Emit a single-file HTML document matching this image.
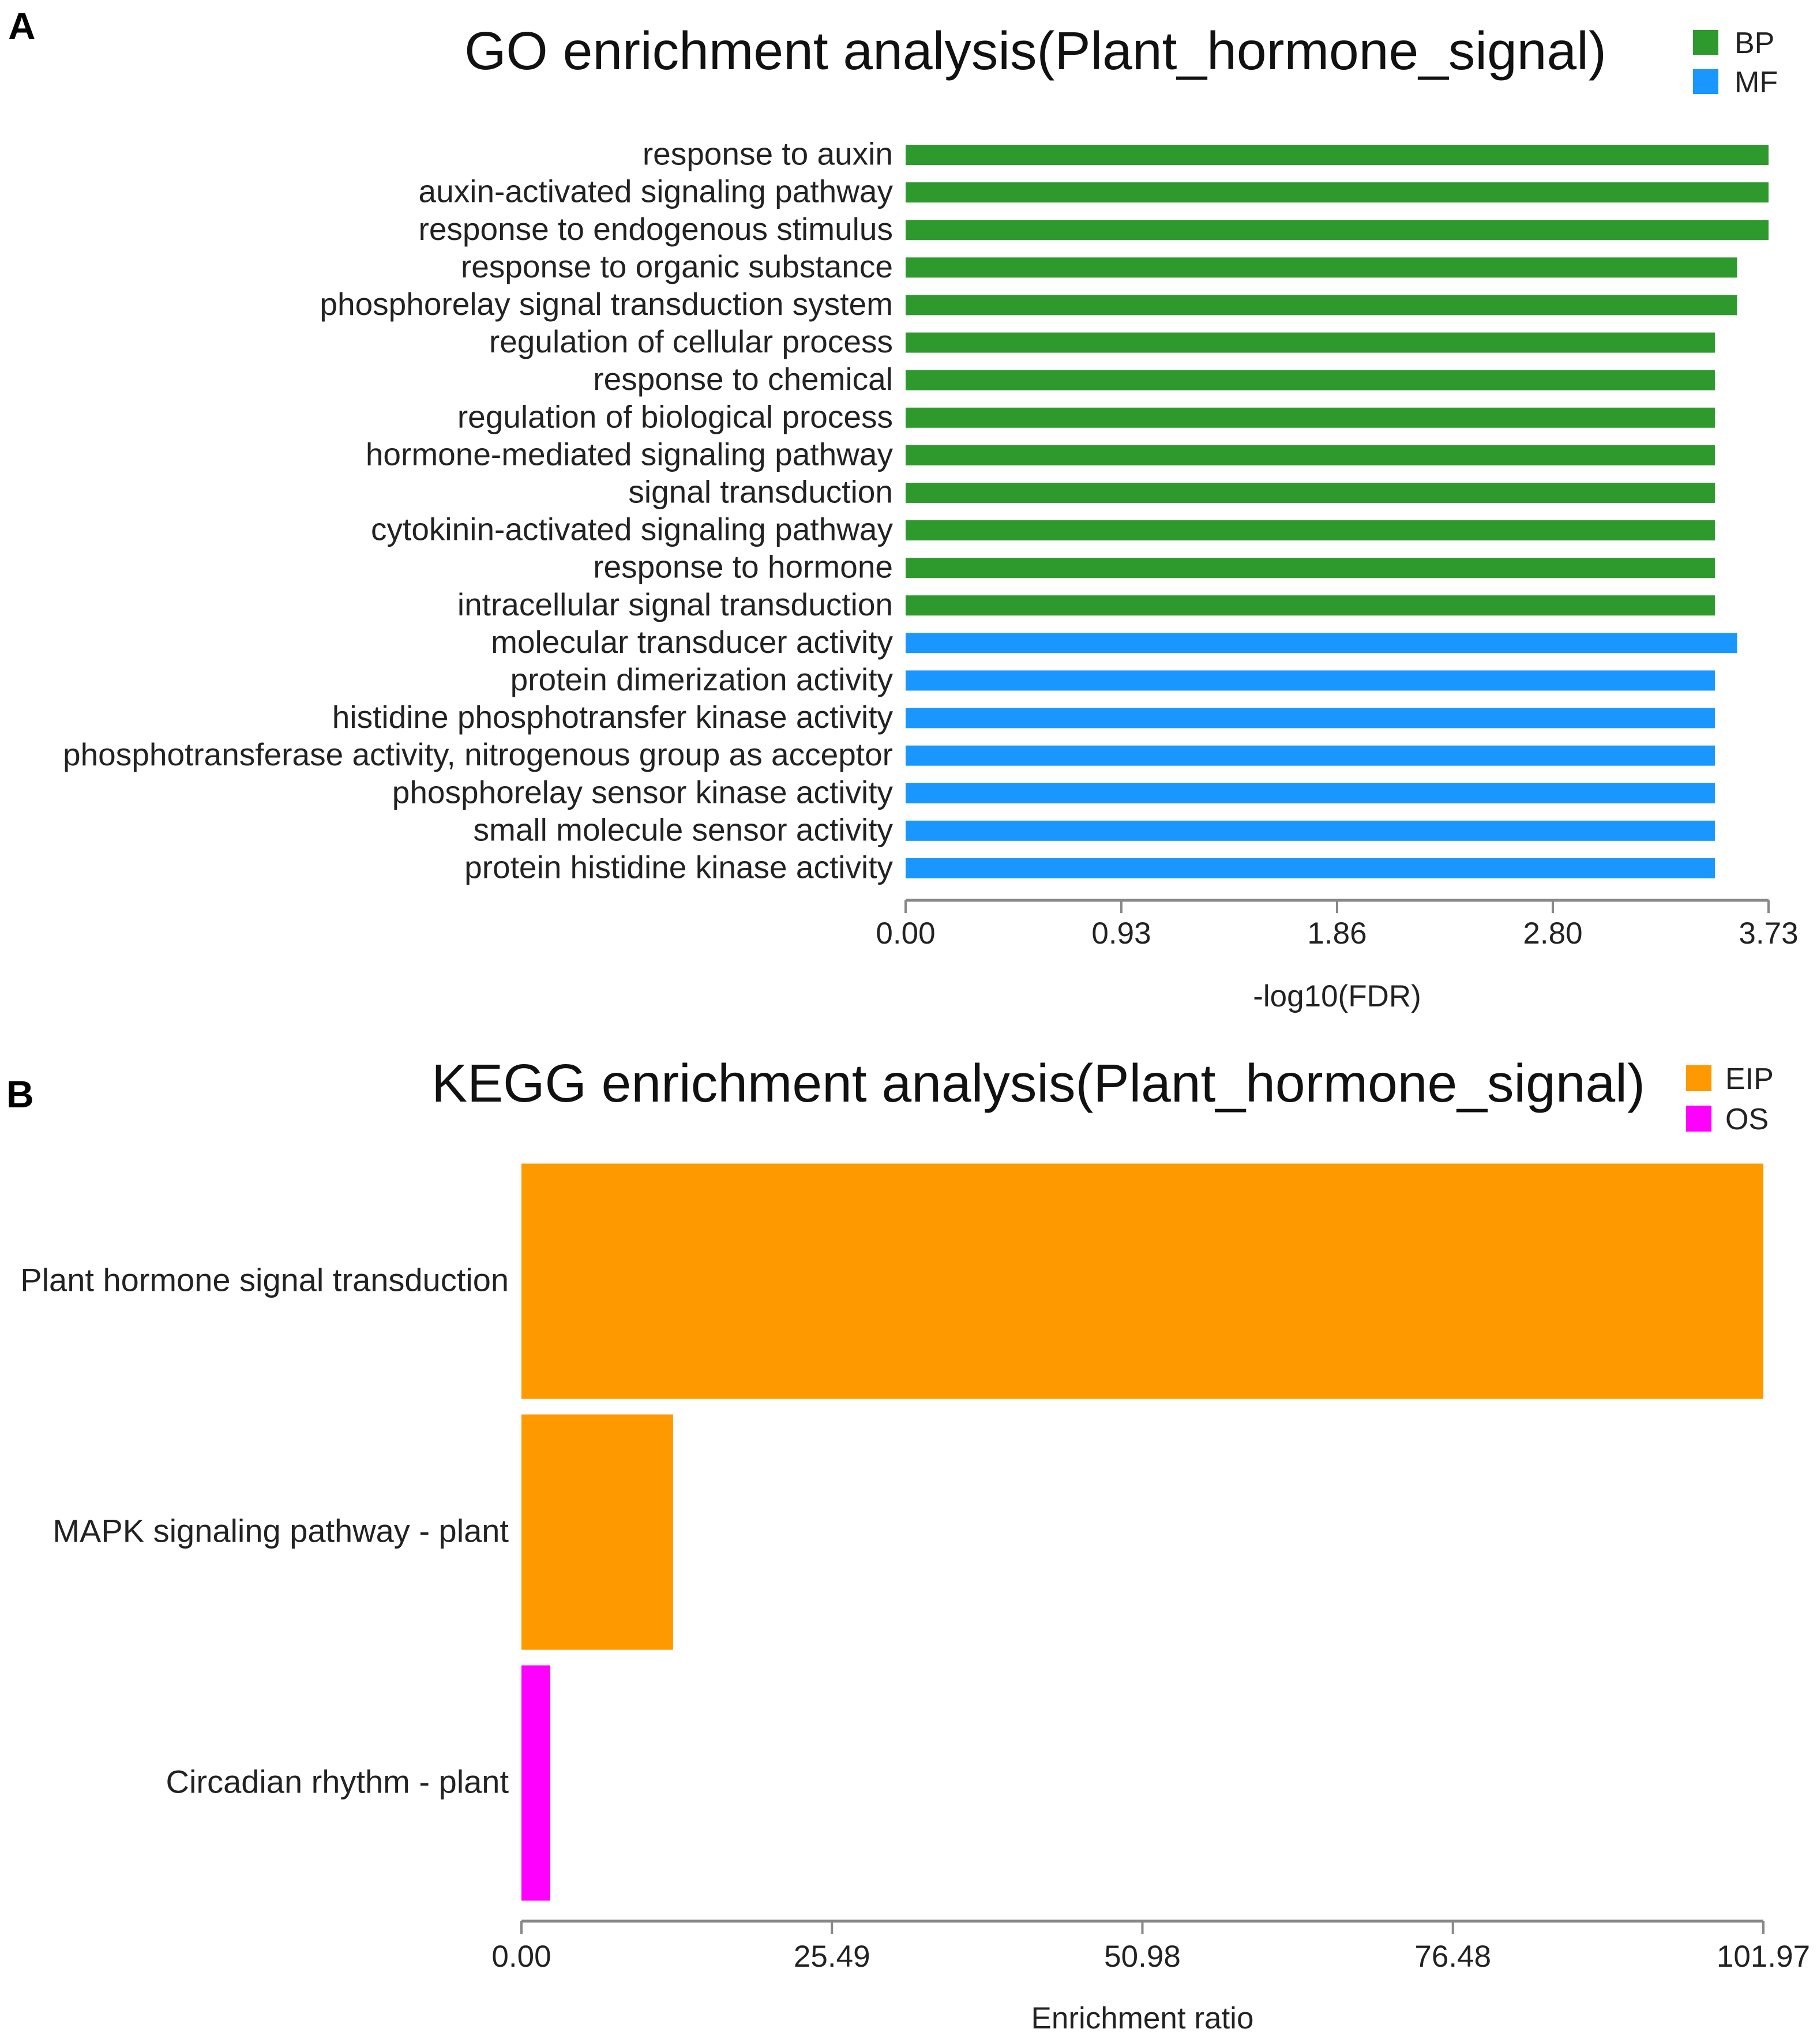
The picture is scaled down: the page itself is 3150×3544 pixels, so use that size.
<!DOCTYPE html>
<html><head><meta charset="utf-8"><style>
html,body{margin:0;padding:0;background:#fff;}
svg{display:block;font-family:"Liberation Sans",Arial,sans-serif;}
</style></head><body>
<svg id="chart" width="3150" height="3544" viewBox="0 0 3150 3544" xmlns="http://www.w3.org/2000/svg">
<rect width="3150" height="3544" fill="#fff"/>
<text x="14" y="68" font-size="66" font-weight="bold">A</text>
<text x="1795" y="120" font-size="93" text-anchor="middle" fill="#111">GO enrichment analysis(Plant_hormone_signal)</text>
<rect x="2935" y="52" width="44" height="43" fill="#2e9a2e"/>
<text x="3007" y="92" font-size="52" fill="#222">BP</text>
<rect x="2935" y="120" width="44" height="43" fill="#1a96ff"/>
<text x="3007" y="160" font-size="52" fill="#222">MF</text>
<text x="11" y="1920" font-size="66" font-weight="bold">B</text>
<text x="1800" y="1910" font-size="93" text-anchor="middle" fill="#111">KEGG enrichment analysis(Plant_hormone_signal)</text>
<rect x="2923" y="1847" width="44" height="45" fill="#ff9900"/>
<text x="2991" y="1888" font-size="52" fill="#222">EIP</text>
<rect x="2923" y="1917" width="44" height="45" fill="#ff00ff"/>
<text x="2991" y="1958" font-size="52" fill="#222">OS</text>
<g id="go"></g><g id="kegg"></g>
</svg>
<script>
const goTerms = ["response to auxin","auxin-activated signaling pathway","response to endogenous stimulus","response to organic substance","phosphorelay signal transduction system","regulation of cellular process","response to chemical","regulation of biological process","hormone-mediated signaling pathway","signal transduction","cytokinin-activated signaling pathway","response to hormone","intracellular signal transduction","molecular transducer activity","protein dimerization activity","histidine phosphotransfer kinase activity","phosphotransferase activity, nitrogenous group as acceptor","phosphorelay sensor kinase activity","small molecule sensor activity","protein histidine kinase activity"];
const goValues = [3.73,3.73,3.73,3.594,3.594,3.498,3.498,3.498,3.498,3.498,3.498,3.498,3.498,3.594,3.498,3.498,3.498,3.498,3.498,3.498];
const goClass = ["BP","BP","BP","BP","BP","BP","BP","BP","BP","BP","BP","BP","BP","MF","MF","MF","MF","MF","MF","MF"];
const goTicks = ["0.00","0.93","1.86","2.80","3.73"];
const goMax = 3.73;
const keggTerms = ["Plant hormone signal transduction","MAPK signaling pathway - plant","Circadian rhythm - plant"];
const keggValues = [101.97,12.45,2.36];
const keggClass = ["EIP","EIP","OS"];
const keggTicks = ["0.00","25.49","50.98","76.48","101.97"];
const keggMax = 101.97;

const colors = {BP:"#2e9a2e",MF:"#1a96ff",EIP:"#ff9900",OS:"#ff00ff"};
const NS = "http://www.w3.org/2000/svg";
function mk(parent, tag, attrs, text){
  const e = document.createElementNS(NS, tag);
  for (const k in attrs) e.setAttribute(k, attrs[k]);
  if (text !== undefined) e.textContent = text;
  parent.appendChild(e);
  return e;
}
function drawChart(g, terms, values, cls, ticks, max, cfg, prefix){
  const x = v => cfg.x0 + (v / max) * (cfg.x1 - cfg.x0);
  const y = i => cfg.top + i * cfg.step;
  terms.forEach((t, i) => {
    const b = mk(g, "rect", {x: x(0), y: y(i) + (cfg.step - cfg.bh) / 2, width: x(values[i]) - x(0), height: cfg.bh, fill: colors[cls[i]]});
    
    
    const l = mk(g, "text", {x: cfg.x0 - 22, y: y(i) + cfg.step / 2 + 17, "font-size": cfg.fs, "text-anchor": "end", fill: "#222"}, t);
    
    
  });
  const ax = mk(g, "line", {x1: x(0), x2: x(max), y1: cfg.axisY, y2: cfg.axisY, stroke: "#888", "stroke-width": 5});
  
  
  ticks.forEach((tl, i) => {
    const v = max * i / (ticks.length - 1);
    const tk = mk(g, "line", {x1: x(v), x2: x(v), y1: cfg.axisY, y2: cfg.axisY + 22, stroke: "#888", "stroke-width": 4});
    
    
    const tt = mk(g, "text", {x: x(v), y: cfg.tickY, "font-size": 53, "text-anchor": "middle", fill: "#222"}, tl);
    
    
  });
  const at = mk(g, "text", {x: (x(0) + x(max)) / 2, y: cfg.titleY, "font-size": 53, "text-anchor": "middle", fill: "#222"}, cfg.title);
  
  
}
drawChart(document.getElementById("go"), goTerms, goValues, goClass, goTicks, goMax,
  {x0:1570, x1:3066, top:236, step:65.1, bh:35, axisY:1561, tickY:1636, titleY:1745, title:"-log10(FDR)", fs:55}, "go");
drawChart(document.getElementById("kegg"), keggTerms, keggValues, keggClass, keggTicks, keggMax,
  {x0:904, x1:3057, top:2004, step:435, bh:408, axisY:3331, tickY:3410, titleY:3517, title:"Enrichment ratio", fs:56}, "kegg");
</script>
</body></html>
